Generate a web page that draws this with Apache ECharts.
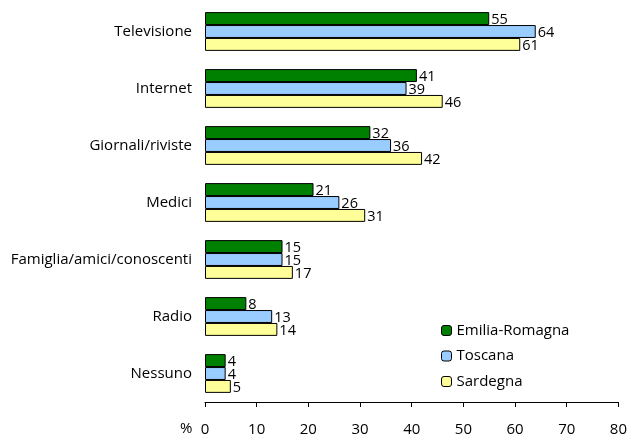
<!DOCTYPE html>
<html>
<head>
<meta charset="utf-8">
<script src="https://cdn.jsdelivr.net/npm/echarts@6/dist/echarts.min.js"></script>
<style>html,body{margin:0;padding:0;background:#fff;}#c{width:630px;height:437px;}</style>
</head>
<body>
<div id="c"></div>
<script>
const categories = ['Televisione','Internet','Giornali/riviste','Medici','Famiglia/amici/conoscenti','Radio','Nessuno'];
const emiliaRomagna = [55,41,32,21,15,8,4];
const toscana = [64,39,36,26,15,13,4];
const sardegna = [61,46,42,31,17,14,5];
const seriesNames = ['Emilia-Romagna','Toscana','Sardegna'];
const colors = ['#008000','#99CCFF','#FFFF99'];

const FONT = 'Open Sans';
const FS = 15;
const chart = echarts.init(document.getElementById('c'));
const mk = (name, data, color) => ({
  name, type: 'bar', data,
  barGap: '0%', barCategoryGap: '32%',
  itemStyle: { color, borderColor: '#000', borderWidth: 1 },
  label: { show: true, position: 'right', distance: 2, color: '#000', fontFamily: FONT, fontSize: 14.5, offset: [0, 1] },
  animation: false
});
chart.setOption({
  animation: false,
  grid: { left: 205, right: 10, top: 3, bottom: 34, containLabel: false },
  legend: {
    orient: 'vertical', left: 441, top: 323,
    itemWidth: 10, itemHeight: 10, itemGap: 10.5, padding: 0,
    textStyle: { fontFamily: FONT, fontSize: FS, color: '#000' },
    data: seriesNames.map((n, i) => ({ name: n, itemStyle: { color: colors[i], borderColor: '#000', borderWidth: 1 } }))
  },
  xAxis: {
    type: 'value', min: 0, max: 80, interval: 10,
    axisLine: { show: true, lineStyle: { color: '#000', width: 1 } },
    axisTick: { show: true, length: 5, lineStyle: { color: '#000' } },
    axisLabel: { color: '#000', fontFamily: FONT, fontSize: FS, margin: 20 },
    splitLine: { show: false }
  },
  yAxis: {
    type: 'category', data: categories, inverse: true,
    axisLine: { show: false }, axisTick: { show: false },
    axisLabel: { color: '#000', fontFamily: FONT, fontSize: FS, margin: 13 }
  },
  graphic: [{ type: 'text', left: 180, top: 421, style: { text: '%', fontFamily: FONT, fontSize: FS, fill: '#000' } }],
  series: [
    mk(seriesNames[0], emiliaRomagna, colors[0]),
    mk(seriesNames[1], toscana, colors[1]),
    mk(seriesNames[2], sardegna, colors[2])
  ]
});
</script>
</body>
</html>
